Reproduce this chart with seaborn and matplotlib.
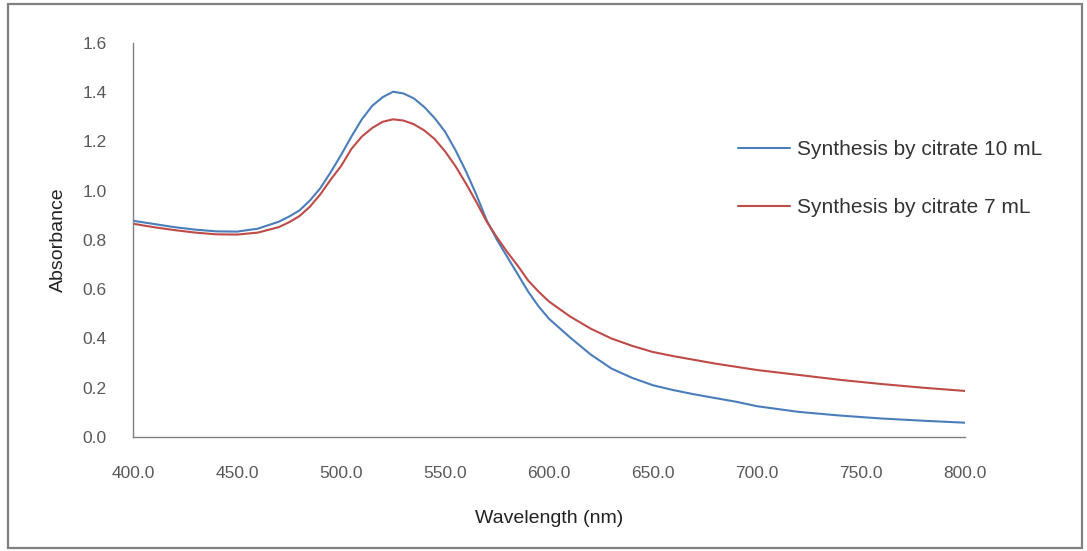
import matplotlib
matplotlib.use("Agg")
import matplotlib.pyplot as plt
import seaborn as sns
import pandas as pd
from matplotlib.patches import Rectangle
from matplotlib.ticker import FormatStrFormatter

wavelength = [400, 410, 420, 430, 440, 450, 460, 470, 475, 480, 485, 490, 495, 500,
              505, 510, 515, 520, 525, 530, 535, 540, 545, 550, 555, 560, 565, 570,
              575, 580, 585, 590, 595, 600, 610, 620, 630, 640, 650, 660, 670, 680,
              690, 700, 720, 740, 760, 780, 800]
citrate_10 = [0.878, 0.865, 0.852, 0.842, 0.835, 0.834, 0.846, 0.874, 0.895, 0.920,
              0.960, 1.010, 1.075, 1.145, 1.220, 1.290, 1.345, 1.380, 1.402, 1.395,
              1.375, 1.340, 1.295, 1.240, 1.165, 1.080, 0.985, 0.880, 0.800, 0.730,
              0.660, 0.590, 0.530, 0.480, 0.405, 0.335, 0.278, 0.240, 0.210, 0.190,
              0.173, 0.158, 0.143, 0.125, 0.102, 0.087, 0.075, 0.066, 0.058]
citrate_7 = [0.866, 0.852, 0.840, 0.830, 0.823, 0.822, 0.830, 0.852, 0.872, 0.897,
             0.935, 0.985, 1.045, 1.100, 1.170, 1.220, 1.255, 1.280, 1.290, 1.285,
             1.270, 1.245, 1.210, 1.160, 1.100, 1.030, 0.955, 0.875, 0.810, 0.750,
             0.695, 0.635, 0.590, 0.550, 0.490, 0.440, 0.400, 0.370, 0.345, 0.328,
             0.313, 0.298, 0.285, 0.272, 0.252, 0.232, 0.215, 0.200, 0.187]
series_names = ["Synthesis by citrate 10 mL", "Synthesis by citrate 7 mL"]
x_ticks = [400, 450, 500, 550, 600, 650, 700, 750, 800]
y_ticks = [0.0, 0.2, 0.4, 0.6, 0.8, 1.0, 1.2, 1.4, 1.6]

df = pd.DataFrame({
    "Wavelength": wavelength * 2,
    "Absorbance": citrate_10 + citrate_7,
    "Series": [series_names[0]] * len(wavelength) + [series_names[1]] * len(wavelength),
})

sns.set_theme(style="white")
plt.rcParams["font.family"] = ["Liberation Sans", "DejaVu Sans"]

fig = plt.figure(figsize=(10.87, 5.51), dpi=100)
fig.patch.set_facecolor("white")
ax = fig.add_axes([0.1224, 0.2069, 0.7654, 0.7151])

sns.lineplot(data=df, x="Wavelength", y="Absorbance", hue="Series",
             palette={series_names[0]: "#4A7EBB", series_names[1]: "#BE4B48"},
             linewidth=1.5, ax=ax, legend=True)

ax.set_xlim(400, 800)
ax.set_ylim(0, 1.6)
ax.set_xticks(x_ticks)
ax.set_yticks(y_ticks)
ax.xaxis.set_major_formatter(FormatStrFormatter("%.1f"))
ax.yaxis.set_major_formatter(FormatStrFormatter("%.1f"))
for s in ["top", "right"]:
    ax.spines[s].set_visible(False)
for s in ["left", "bottom"]:
    ax.spines[s].set_color("#808080")
    ax.spines[s].set_linewidth(1.0)
ax.tick_params(axis="both", which="major", direction="out", length=5, width=1,
               color="#808080", labelcolor="#595959", labelsize=12.5)
ax.tick_params(axis="x", pad=16)
ax.tick_params(axis="y", pad=14)

ax.set_xlabel("Wavelength (nm)", fontsize=14, color="#222222", labelpad=21)
ax.set_ylabel("Absorbance", fontsize=14, color="#222222", labelpad=11)

leg = ax.legend(loc="upper left", bbox_to_anchor=(0.7045, 0.801), frameon=False,
                fontsize=15, handlelength=2.5, handletextpad=0.34, labelspacing=1.875,
                labelcolor="#333333")

fig.add_artist(Rectangle((8 / 1087, 3 / 551), 1074 / 1087, 544 / 551,
                         transform=fig.transFigure, fill=False,
                         edgecolor="#808080", linewidth=1.6))

fig.savefig("out.png", dpi=100, facecolor="white")
